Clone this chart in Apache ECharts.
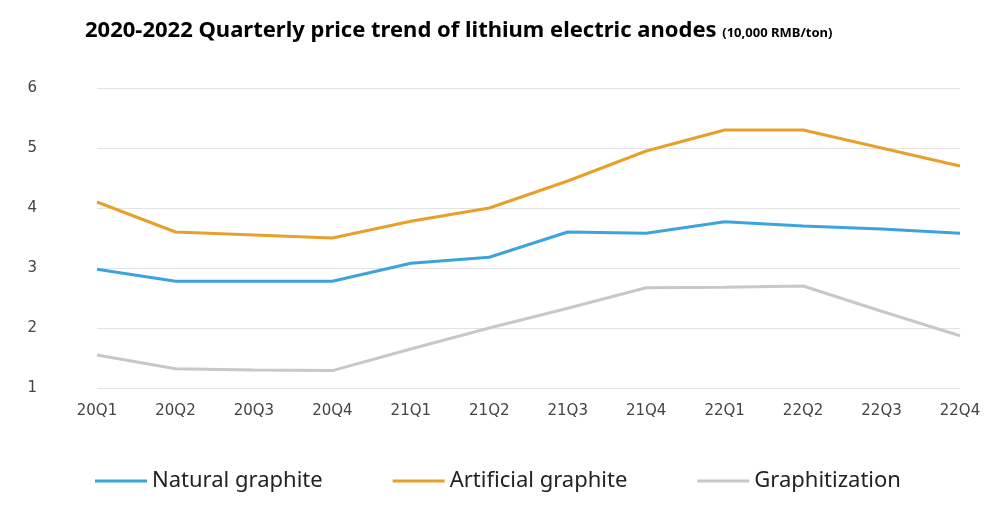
<!DOCTYPE html>
<html><head><meta charset="utf-8">
<script src="https://cdn.jsdelivr.net/npm/echarts@6/dist/echarts.min.js"></script>
<style>html,body{margin:0;padding:0;background:#fff}#c{width:1000px;height:509px}</style>
</head><body><div id="c"></div>
<script>
const categories = ['20Q1','20Q2','20Q3','20Q4','21Q1','21Q2','21Q3','21Q4','22Q1','22Q2','22Q3','22Q4'];
const natural = [2.98,2.78,2.78,2.78,3.08,3.18,3.6,3.58,3.77,3.7,3.65,3.58];
const artificial = [4.1,3.6,3.55,3.5,3.78,4.0,4.45,4.95,5.3,5.3,5.0,4.7];
const graphitization = [1.55,1.32,1.3,1.29,1.65,2.0,2.33,2.67,2.68,2.7,2.28,1.87];
const yTicks = [1,2,3,4,5,6];
const chart = echarts.init(document.getElementById('c'));
const mk = (name, data, color) => ({name, type:'line', data, symbol:'none', smooth:false,
  lineStyle:{color, width:3}, itemStyle:{color}});
chart.setOption({
  animation:false,
  title:{text:'{a|2020-2022 Quarterly price trend of lithium electric anodes }{b|(10,000 RMB/ton)}',
    left:80, top:15,
    textStyle:{rich:{a:{fontSize:22,fontWeight:'bold',color:'#000',fontFamily:'Noto Sans'},
      b:{fontSize:13,fontWeight:'bold',color:'#000',fontFamily:'Noto Sans',padding:[5,0,0,0]}}}},
  legend:{bottom:12, left:90, itemWidth:52, itemHeight:3, itemGap:70, icon:'rect',
    textStyle:{fontSize:22,color:'#222',fontFamily:'Noto Sans'},
    data:['Natural graphite','Artificial graphite','Graphitization']},
  grid:{left:97, right:40, top:88, bottom:121},
  xAxis:{type:'category', data:categories, boundaryGap:false,
    axisLine:{show:false}, axisTick:{show:false},
    axisLabel:{fontSize:15,color:'#444',margin:16,fontFamily:'DejaVu Sans'}},
  yAxis:{type:'value', min:yTicks[0], max:yTicks[yTicks.length-1], interval:1,
    axisLabel:{fontSize:15,color:'#444',margin:60,fontFamily:'DejaVu Sans'},
    splitLine:{lineStyle:{color:'#e3e3e3'}}},
  series:[mk('Natural graphite',natural,'#3ca4dc'),
          mk('Artificial graphite',artificial,'#e8a02c'),
          mk('Graphitization',graphitization,'#c8c8c8')]
});
</script></body></html>
